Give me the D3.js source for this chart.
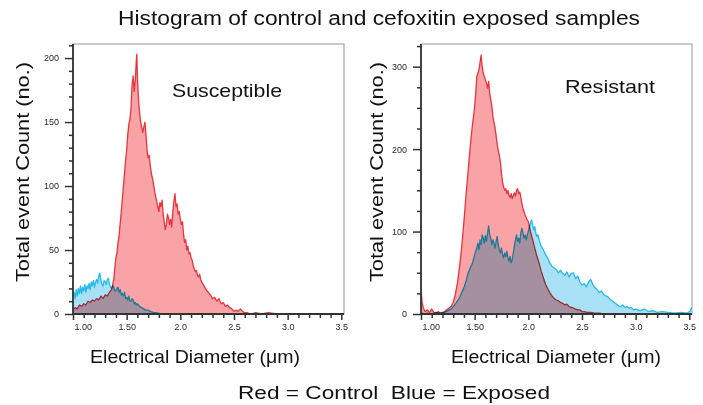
<!DOCTYPE html>
<html>
<head>
<meta charset="utf-8">
<script src="https://cdn.jsdelivr.net/npm/d3@7"></script>
<style>
  html, body { margin: 0; padding: 0; background: #fff; }
  svg { display: block; font-family: "Liberation Sans", Arial, sans-serif; }
</style>
</head>
<body>
<svg id="chart" width="703" height="405"></svg>
<script>
// ---------------- DATA ----------------
const chartTitle = "Histogram of control and cefoxitin exposed samples";
const panelTitles = ["Susceptible", "Resistant"];
const yAxisTitle = "Total event Count (no.)";
const xAxisTitle = "Electrical Diameter (\u03bcm)";
const legendText = "Red = Control  Blue = Exposed";

const xTickValues = [1.0, 1.5, 2.0, 2.5, 3.0, 3.5];
const xTickLabels = ["1.00", "1.50", "2.0", "2.5", "3.0", "3.5"];
const xMinorTicks = [1.1,1.2,1.3,1.4,1.6,1.7,1.8,1.9,2.1,2.2,2.3,2.4,2.6,2.7,2.8,2.9,3.1,3.2,3.3,3.4];

const suscYTicks = [0, 50, 100, 150, 200];
const suscYMinor = [10,20,30,40,60,70,80,90,110,120,130,140,160,170,180,190,210];
const resYTicks = [0, 100, 200, 300];
const resYMinor = [25,50,75,125,150,175,225,250,275,325];

// Susceptible - Control (red): [diameter, count]
const suscControl = [
  [1.00,3],[1.02,5],[1.04,4],[1.06,7],[1.08,6],[1.10,8],[1.12,7],[1.14,10],[1.16,9],[1.18,11],
  [1.20,10],[1.22,12],[1.24,11],[1.26,14],[1.28,12],[1.30,15],[1.32,14],[1.34,17],[1.36,19],[1.38,27],
  [1.39,36],[1.40,44],[1.41,48],[1.42,56],[1.43,62],[1.44,71],[1.45,80],[1.46,90],[1.47,100],[1.48,110],
  [1.49,120],[1.50,128],[1.51,140],[1.52,148],[1.53,152],[1.54,160],[1.55,178],[1.56,186],[1.57,174],[1.58,182],
  [1.59,198],[1.595,203],[1.60,186],[1.61,168],[1.62,158],[1.63,150],[1.64,146],[1.65,142],[1.66,146],[1.67,150],
  [1.68,140],[1.69,128],[1.70,122],[1.71,124],[1.72,116],[1.73,110],[1.74,106],[1.75,102],[1.76,96],[1.77,92],
  [1.78,88],[1.79,84],[1.80,80],[1.81,87],[1.82,84],[1.83,89],[1.84,78],[1.85,72],[1.86,66],[1.87,70],
  [1.88,78],[1.89,75],[1.90,70],[1.91,74],[1.92,68],[1.93,80],[1.94,88],[1.95,94],[1.96,84],[1.97,86],
  [1.98,78],[1.99,80],[2.00,74],[2.01,70],[2.02,72],[2.03,62],[2.04,56],[2.05,58],[2.06,50],[2.07,53],
  [2.08,47],[2.09,48],[2.10,44],[2.11,42],[2.12,38],[2.13,35],[2.14,33],[2.15,34],[2.16,30],[2.17,29],
  [2.18,31],[2.19,27],[2.20,25],[2.22,22],[2.24,19],[2.26,17],[2.28,15],[2.30,12],[2.32,13],[2.34,10],
  [2.36,12],[2.38,8],[2.40,9],[2.42,6],[2.44,7],[2.46,5],[2.48,4],[2.50,2],[2.52,3],[2.54,2],
  [2.56,4],[2.58,2],[2.60,1],[2.62,1],[2.66,0],[2.70,1],[2.76,0],[2.82,1],[2.90,0],[3.00,0],
  [3.10,0],[3.20,0],[3.53,0]
];

// Susceptible - Exposed (blue)
const suscExposed = [
  [1.00,13],[1.01,17],[1.02,12],[1.03,19],[1.04,14],[1.05,20],[1.06,16],[1.07,22],[1.08,16],[1.09,21],
  [1.10,18],[1.11,23],[1.12,17],[1.13,22],[1.14,20],[1.15,24],[1.16,19],[1.17,25],[1.18,22],[1.19,26],
  [1.20,21],[1.21,25],[1.22,27],[1.23,24],[1.24,30],[1.25,32],[1.26,26],[1.27,23],[1.28,22],[1.29,26],
  [1.30,25],[1.31,23],[1.32,27],[1.33,28],[1.34,23],[1.35,21],[1.36,20],[1.37,22],[1.38,21],[1.39,18],
  [1.40,18],[1.41,20],[1.42,21],[1.43,17],[1.44,19],[1.45,15],[1.46,16],[1.47,14],[1.48,17],[1.49,12],
  [1.50,13],[1.51,11],[1.52,14],[1.53,10],[1.54,10],[1.55,12],[1.56,11],[1.57,8],[1.58,9],[1.59,7],
  [1.60,8],[1.62,6],[1.64,5],[1.66,4],[1.68,3],[1.70,3],[1.72,2],[1.75,1],[1.78,1],[1.82,0],
  [3.53,0]
];

// Resistant - Control (red)
const resControl = [
  [1.00,30],[1.005,22],[1.01,14],[1.02,8],[1.03,5],[1.04,3],[1.06,5],[1.08,2],[1.10,6],[1.12,2],
  [1.14,1],[1.16,3],[1.18,1],[1.20,2],[1.22,3],[1.24,5],[1.26,7],[1.28,9],[1.30,14],[1.32,24],
  [1.34,38],[1.36,58],[1.38,82],[1.40,112],[1.42,145],[1.44,175],[1.46,205],[1.47,218],[1.48,230],[1.49,240],
  [1.50,252],[1.51,268],[1.52,288],[1.53,292],[1.54,296],[1.55,305],[1.56,314],[1.57,300],[1.58,292],[1.59,288],
  [1.60,284],[1.61,280],[1.62,274],[1.63,282],[1.64,268],[1.65,260],[1.66,252],[1.67,240],[1.68,232],[1.69,226],
  [1.70,216],[1.71,206],[1.72,198],[1.73,192],[1.74,184],[1.75,170],[1.76,160],[1.77,154],[1.78,150],[1.79,152],
  [1.80,146],[1.81,150],[1.82,144],[1.83,141],[1.84,146],[1.85,140],[1.86,143],[1.87,147],[1.88,143],[1.89,150],
  [1.90,152],[1.91,146],[1.92,148],[1.93,142],[1.94,134],[1.95,128],[1.96,124],[1.97,120],[1.98,117],[1.99,114],
  [2.00,112],[2.02,100],[2.04,90],[2.06,80],[2.08,70],[2.10,62],[2.12,52],[2.14,44],[2.16,36],[2.18,31],
  [2.20,26],[2.22,22],[2.24,19],[2.26,17],[2.28,16],[2.30,14],[2.32,13],[2.34,11],[2.36,12],[2.38,9],
  [2.40,8],[2.42,7],[2.44,6],[2.46,5],[2.48,5],[2.50,3],[2.52,3],[2.55,2],[2.58,2],[2.62,1],
  [2.66,1],[2.70,0],[3.53,0]
];

// Resistant - Exposed (blue)
const resExposed = [
  [1.00,2],[1.03,0],[1.06,1],[1.10,0],[1.14,2],[1.18,1],[1.22,2],[1.25,4],[1.28,6],[1.30,9],
  [1.32,12],[1.34,16],[1.36,20],[1.38,26],[1.40,32],[1.42,40],[1.44,50],[1.46,56],[1.48,62],[1.50,72],
  [1.52,80],[1.53,86],[1.54,78],[1.55,90],[1.56,84],[1.57,96],[1.58,92],[1.59,86],[1.60,95],[1.61,88],
  [1.62,98],[1.63,107],[1.64,96],[1.65,92],[1.66,84],[1.67,90],[1.68,86],[1.69,80],[1.70,88],[1.71,94],
  [1.72,84],[1.73,78],[1.74,74],[1.75,80],[1.76,72],[1.77,68],[1.78,74],[1.79,70],[1.80,76],[1.81,68],
  [1.82,64],[1.83,70],[1.84,62],[1.85,66],[1.86,74],[1.87,82],[1.88,90],[1.89,96],[1.90,88],[1.91,92],
  [1.92,86],[1.93,98],[1.94,104],[1.95,98],[1.96,92],[1.97,96],[1.98,90],[1.99,96],[2.00,100],[2.01,106],
  [2.02,110],[2.03,114],[2.04,108],[2.05,102],[2.06,106],[2.07,98],[2.08,94],[2.09,96],[2.10,90],[2.12,82],
  [2.14,78],[2.16,72],[2.18,68],[2.20,62],[2.22,58],[2.24,56],[2.26,54],[2.28,50],[2.30,53],[2.32,49],
  [2.34,47],[2.36,51],[2.38,45],[2.40,49],[2.42,50],[2.44,43],[2.46,46],[2.48,39],[2.50,35],[2.52,37],
  [2.54,33],[2.56,38],[2.58,42],[2.60,36],[2.62,32],[2.64,30],[2.66,26],[2.68,28],[2.70,24],[2.72,22],
  [2.74,21],[2.76,18],[2.78,16],[2.80,14],[2.82,12],[2.84,10],[2.86,9],[2.88,11],[2.90,8],[2.92,9],
  [2.94,7],[2.96,8],[2.98,5],[3.00,6],[3.04,4],[3.08,6],[3.12,3],[3.16,4],[3.20,2],[3.25,3],
  [3.30,2],[3.36,1],[3.42,2],[3.48,1],[3.51,4],[3.525,8]
];

// ---------------- DRAW ----------------
const svg = d3.select("#chart");
const colors = {
  redLine: "#e8343c", redFill: "#f9a3a6",
  blueLine: "#22bbea", blueFill: "#a8e1f5"
};

function label(sel, x, y, txt, size, len) {
  return sel.append("text")
    .attr("x", x).attr("y", y)
    .attr("text-anchor", "middle")
    .attr("font-size", size).attr("fill", "#111")
    .attr("textLength", len).attr("lengthAdjust", "spacingAndGlyphs")
    .style("white-space", "pre")
    .text(txt);
}

label(svg, 379, 25, chartTitle, 19.5, 522);
label(svg, 394, 399, legendText, 19, 312);

const panels = [
  { x0: 73, x1: 344, yMax: 211, yTicks: suscYTicks, yMinor: suscYMinor,
    control: suscControl, exposed: suscExposed, title: panelTitles[0], tx: 227, ty: 97, tLen: 110,
    yTitleX: 29, xTitleX: 195 },
  { x0: 421, x1: 692, yMax: 327.5, yTicks: resYTicks, yMinor: resYMinor,
    control: resControl, exposed: resExposed, title: panelTitles[1], tx: 610, ty: 93, tLen: 90,
    yTitleX: 383, xTitleX: 556 }
];
const plotTop = 44, plotBottom = 314;

panels.forEach((p, i) => {
  const x = d3.scaleLinear().domain([1.0, 3.525]).range([p.x0, p.x1]);
  const y = d3.scaleLinear().domain([0, p.yMax]).range([plotBottom, plotTop]);
  const g = svg.append("g");

  // frame
  g.append("rect")
    .attr("x", p.x0).attr("y", plotTop)
    .attr("width", p.x1 - p.x0).attr("height", plotBottom - plotTop)
    .attr("fill", "none").attr("stroke", "#a8a8a8").attr("stroke-width", 1.2);

  const clipId = "clip" + i;
  svg.append("clipPath").attr("id", clipId)
    .append("rect").attr("x", p.x0).attr("y", plotTop)
    .attr("width", p.x1 - p.x0).attr("height", plotBottom - plotTop);

  const dataG = g.append("g").attr("clip-path", `url(#${clipId})`).style("isolation", "isolate");

  const area = d3.area().x(d => x(d[0])).y0(y(0)).y1(d => y(d[1]));
  const line = d3.line().x(d => x(d[0])).y(d => y(d[1]));

  const series = [
    { data: p.control, fill: colors.redFill, stroke: colors.redLine },
    { data: p.exposed, fill: colors.blueFill, stroke: colors.blueLine }
  ];
  series.forEach(s => {
    const sg = dataG.append("g").style("mix-blend-mode", "multiply");
    sg.append("path").datum(s.data).attr("d", area).attr("fill", s.fill);
    sg.append("path").datum(s.data).attr("d", line)
      .attr("fill", "none").attr("stroke", s.stroke).attr("stroke-width", 1.3)
      .attr("stroke-linejoin", "round");
  });

  // y axis
  const yAxis = d3.axisLeft(y).tickValues(p.yTicks).tickSize(8).tickPadding(6).tickFormat(d3.format("d"));
  const yA = g.append("g").attr("transform", `translate(${p.x0},0)`).call(yAxis);
  const yAm = g.append("g").attr("transform", `translate(${p.x0},0)`)
    .call(d3.axisLeft(y).tickValues(p.yMinor.filter(v => v <= p.yMax)).tickSize(4).tickFormat(""));
  // x axis
  const xAxis = d3.axisBottom(x).tickValues(xTickValues).tickSize(6).tickPadding(4)
    .tickFormat((d, k) => xTickLabels[k]);
  const xA = g.append("g").attr("transform", `translate(0,${plotBottom})`).call(xAxis);
  const xAm = g.append("g").attr("transform", `translate(0,${plotBottom})`)
    .call(d3.axisBottom(x).tickValues(xMinorTicks).tickSize(4).tickFormat(""));

  [yA, yAm, xA, xAm].forEach(a => {
    a.select(".domain").attr("stroke", "#333").attr("stroke-width", 1.8);
    a.selectAll(".tick line").attr("stroke", "#333").attr("stroke-width", 1.5);
    a.selectAll(".tick text").attr("fill", "#2a2a2a").attr("font-size", 9)
      .attr("font-family", "'Liberation Sans', Arial, sans-serif");
  });
  yA.select(".domain").remove();
  yAm.select(".domain").attr("d", `M0,${plotTop}V${plotBottom}`);
  xA.select(".domain").remove();
  xAm.select(".domain").attr("d", `M${p.x0},0H${p.x1}`);
  xA.selectAll(".tick text").filter((d, k) => k === 0).attr("text-anchor", "start").attr("dx", 1);

  // panel label
  label(g, p.tx, p.ty, p.title, 19, p.tLen);

  // y title
  label(g.append("g").attr("transform", `translate(${p.yTitleX},172) rotate(-90)`),
        0, 0, yAxisTitle, 19, 220);

  // x title
  label(g, p.xTitleX, 363, xAxisTitle, 18, 210);
});
</script>
</body>
</html>
